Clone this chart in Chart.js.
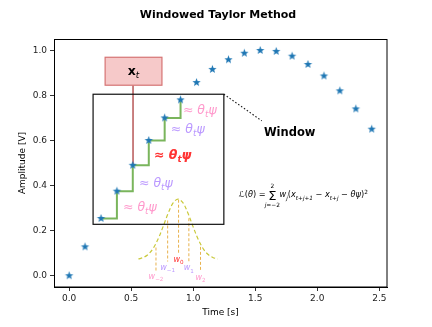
<!DOCTYPE html>
<html>
<head>
<meta charset="utf-8">
<script src="https://cdn.jsdelivr.net/npm/chart.js@4.4.1/dist/chart.umd.min.js"></script>
<style>
  html, body { margin: 0; padding: 0; background: #fff; }
  #wrap { width: 432px; height: 327px; }
</style>
</head>
<body>
<div id="wrap"><canvas id="taylorChart" width="432" height="327"></canvas></div>
<script>
// sampled signal
const timeS = [0.0, 0.128, 0.257, 0.385, 0.513, 0.642, 0.770, 0.898, 1.027, 1.155,
               1.284, 1.412, 1.540, 1.669, 1.797, 1.925, 2.054, 2.182, 2.311, 2.439];
const amplitude = [0.0, 0.128, 0.254, 0.375, 0.490, 0.600, 0.700, 0.780, 0.857, 0.915,
                   0.958, 0.987, 0.999, 0.995, 0.974, 0.937, 0.886, 0.820, 0.740, 0.650];

// samples inside the window (green staircase)
const windowTime = timeS.slice(2, 8);
const windowAmp = amplitude.slice(2, 8);

// weighting bell curve
const bellT = [0.558, 0.598, 0.638, 0.678, 0.718, 0.758, 0.798, 0.838, 0.878,
               0.918, 0.958, 0.998, 1.038, 1.078, 1.118, 1.158, 1.198];
const bellY = [0.074, 0.081, 0.095, 0.122, 0.164, 0.219, 0.277, 0.323, 0.340,
               0.323, 0.277, 0.219, 0.164, 0.122, 0.095, 0.081, 0.074];

// weight stems w_-2 .. w_2
const weightNames = ['−2', '−1', '0', '1', '2'];
const weightT = [0.700, 0.794, 0.882, 0.965, 1.059];
const weightTop = [0.125, 0.245, 0.337, 0.255, 0.128];
const weightBottom = [0.020, 0.063, 0.100, 0.063, 0.020];

// pointer from the x_t box to the current sample
const pointerT = [0.515, 0.515];
const pointerY = [0.845, 0.490];

const xTicks = [0.0, 0.5, 1.0, 1.5, 2.0, 2.5];
const yTicks = [0.0, 0.2, 0.4, 0.6, 0.8, 1.0];

const FONT = "'DejaVu Sans', sans-serif";
const PINK = '#ff99cc', LAV = '#bb99ff', RED = '#ff3333';

function starImage(color, r) {
    const c = document.createElement('canvas');
    const s = Math.ceil(r * 2 + 2);
    c.width = s; c.height = s;
    const g = c.getContext('2d');
    g.translate(s / 2, s / 2);
    g.beginPath();
    for (let i = 0; i < 10; i++) {
        const rr = i % 2 === 0 ? r : r * 0.42;
        const a = -Math.PI / 2 + i * Math.PI / 5;
        g.lineTo(rr * Math.cos(a), rr * Math.sin(a));
    }
    g.closePath();
    g.fillStyle = color;
    g.fill();
    return c;
}

// draws a run of text pieces (with sub/superscripts) starting at x, baseline y
function drawRich(ctx, parts, x, y, size, color, align) {
    let w = 0;
    const m = parts.map(p => {
        const fs = size * (p.scale || 1);
        const f = `${p.it ? 'italic ' : ''}${p.bold ? 'bold ' : ''}${fs}px ${FONT}`;
        ctx.font = f;
        const pw = ctx.measureText(p.t).width;
        w += pw;
        return { f, pw, dy: (p.dy || 0) * size, t: p.t };
    });
    let cx = align === 'center' ? x - w / 2 : x;
    ctx.textAlign = 'left';
    ctx.textBaseline = 'alphabetic';
    ctx.fillStyle = color;
    m.forEach(p => { ctx.font = p.f; ctx.fillText(p.t, cx, y + p.dy); cx += p.pw; });
    return cx;
}

function approx(bold) {
    return [{ t: '≈ ', bold }, { t: 'θ', it: true, bold }, { t: 't', it: true, bold, scale: 0.7, dy: 0.25 }, { t: 'ψ', it: true, bold }];
}

const overlay = {
    id: 'overlay',
    afterDatasetsDraw(chart) {
        const { ctx, chartArea: ca, scales: { x, y } } = chart;
        const px = v => x.getPixelForValue(v);
        const py = v => y.getPixelForValue(v);
        ctx.save();

        // window rectangle
        ctx.strokeStyle = '#111';
        ctx.lineWidth = 1.2;
        ctx.strokeRect(px(0.193), py(0.805), px(1.247) - px(0.193), py(0.228) - py(0.805));

        // dotted leader + label
        ctx.setLineDash([1.5, 2]);
        ctx.lineWidth = 1.1;
        ctx.beginPath();
        ctx.moveTo(px(1.247), py(0.805));
        ctx.lineTo(px(1.553), py(0.687));
        ctx.stroke();
        ctx.setLineDash([]);
        ctx.font = `bold 11.5px ${FONT}`;
        ctx.fillStyle = '#000';
        ctx.textAlign = 'left';
        ctx.textBaseline = 'middle';
        ctx.fillText('Window', px(1.57), py(0.634));

        // x_t box
        const bx0 = px(0.29), bx1 = px(0.748), by0 = py(0.969), by1 = py(0.845);
        ctx.fillStyle = '#f6c9c9';
        ctx.fillRect(bx0, by0, bx1 - bx0, by1 - by0);
        ctx.strokeStyle = '#d67474';
        ctx.lineWidth = 1.2;
        ctx.strokeRect(bx0, by0, bx1 - bx0, by1 - by0);
        drawRich(ctx, [{ t: 'x', bold: true }, { t: 't', it: true, scale: 0.7, dy: 0.25 }],
            (bx0 + bx1) / 2, (by0 + by1) / 2 + 4, 12.5, '#000', 'center');

        // ≈ θ_t ψ notes along the staircase
        const notes = [
            [0.917, 0.736, PINK, false], [0.820, 0.652, LAV, false], [0.684, 0.537, RED, true],
            [0.563, 0.412, LAV, false], [0.434, 0.306, PINK, false]
        ];
        notes.forEach(([nx, ny, col, b]) => drawRich(ctx, approx(b), px(nx), py(ny) + 4.5, 12.5, col, 'left'));

        // weight labels
        const wCol = [PINK, LAV, RED, LAV, PINK];
        const wY = [-0.003, 0.038, 0.074, 0.035, -0.008];
        weightT.forEach((t, i) => {
            drawRich(ctx, [{ t: 'w', it: true }, { t: weightNames[i], scale: 0.7, dy: 0.3 }],
                px(t), py(wY[i]) + 2.5, 8, wCol[i], 'center');
        });

        // loss formula
        const fs = 8.2;
        const base = py(0.348);
        let cx = drawRich(ctx, [{ t: 'ℒ', it: true }, { t: '(' }, { t: 'θ', it: true }, { t: ') = ' }],
            px(1.368), base, fs, '#000', 'left');
        ctx.font = `${fs * 1.6}px ${FONT}`;
        const sw = ctx.measureText('Σ').width;
        ctx.fillText('Σ', cx, base + 2.5);
        drawRich(ctx, [{ t: '2' }], cx + sw / 2, base - 9, fs * 0.72, '#000', 'center');
        drawRich(ctx, [{ t: 'j', it: true }, { t: '=−2' }], cx + sw / 2, base + 9.5, fs * 0.72, '#000', 'center');
        cx += sw + 3;
        drawRich(ctx, [
            { t: 'w', it: true }, { t: 'j', it: true, scale: 0.7, dy: 0.3 }, { t: '(' },
            { t: 'x', it: true }, { t: 't+j+1', it: true, scale: 0.7, dy: 0.3 }, { t: ' − ' },
            { t: 'x', it: true }, { t: 't+j', it: true, scale: 0.7, dy: 0.3 }, { t: ' − ' },
            { t: 'θψ', it: true }, { t: ')' }, { t: '2', scale: 0.7, dy: -0.45 }
        ], cx, base, fs, '#000', 'left');

        // top / right spines
        ctx.strokeStyle = '#000';
        ctx.lineWidth = 1;
        ctx.strokeRect(ca.left + 0.5, ca.top + 0.5, ca.right - ca.left - 0.5, ca.bottom - ca.top - 0.5);

        // title
        ctx.font = `bold 11px ${FONT}`;
        ctx.fillStyle = '#000';
        ctx.textAlign = 'center';
        ctx.textBaseline = 'middle';
        ctx.fillText('Windowed Taylor Method', 218, 15);
        ctx.restore();
    }
};

const pts = (xs, ys) => xs.map((v, i) => ({ x: v, y: ys[i] }));

const datasets = [
    {
        type: 'scatter', label: 'samples', data: pts(timeS, amplitude),
        pointStyle: starImage('#1f77b4', 4.4), pointRadius: 4, order: 0
    },
    {
        type: 'line', label: 'window', data: pts(windowTime, windowAmp), stepped: true,
        borderColor: '#7ab55c', borderWidth: 2, pointRadius: 0, order: 2
    },
    {
        type: 'line', label: 'pointer', data: pts(pointerT, pointerY),
        borderColor: '#b85858', borderWidth: 1.5, pointRadius: 0, order: 3
    },
    {
        type: 'line', label: 'bell', data: pts(bellT, bellY), tension: 0.35,
        borderColor: '#c9c93a', borderWidth: 1.2, borderDash: [4, 2.5], pointRadius: 0, order: 4
    }
];
weightT.forEach((t, i) => datasets.push({
    type: 'line', label: 'w' + weightNames[i],
    data: [{ x: t, y: weightTop[i] }, { x: t, y: weightBottom[i] }],
    borderColor: '#e8b24e', borderWidth: 1, borderDash: [3, 2], pointRadius: 0, order: 5
}));

new Chart(document.getElementById('taylorChart'), {
    type: 'scatter',
    data: { datasets },
    options: {
        responsive: false,
        animation: false,
        devicePixelRatio: 1,
        layout: { padding: { top: 39, right: 45, left: 0, bottom: 0 } },
        plugins: { legend: { display: false }, tooltip: { enabled: false } },
        scales: {
            x: {
                type: 'linear', min: -0.122, max: 2.562,
                afterFit: s => { s.height = 40; },
                afterBuildTicks: s => { s.ticks = xTicks.map(v => ({ value: v })); },
                ticks: { callback: v => v.toFixed(1), color: '#222', padding: 2, maxRotation: 0,
                         font: { family: 'DejaVu Sans', size: 9 } },
                grid: { drawOnChartArea: false, drawTicks: true, tickLength: 4, tickColor: '#333' },
                border: { display: true, color: '#000', width: 1 },
                title: { display: true, text: 'Time [s]', color: '#000',
                         font: { family: 'DejaVu Sans', size: 9 }, padding: { top: 0, bottom: 9 } }
            },
            y: {
                type: 'linear', min: -0.05, max: 1.05,
                afterFit: s => { s.width = 54; },
                afterBuildTicks: s => { s.ticks = yTicks.map(v => ({ value: v })); },
                ticks: { callback: v => v.toFixed(1), color: '#222', padding: 3,
                         font: { family: 'DejaVu Sans', size: 9 } },
                grid: { drawOnChartArea: false, drawTicks: true, tickLength: 4, tickColor: '#333' },
                border: { display: true, color: '#000', width: 1 },
                title: { display: true, text: 'Amplitude [V]', color: '#000',
                         font: { family: 'DejaVu Sans', size: 9 }, padding: { top: 17, bottom: 0 } }
            }
        }
    },
    plugins: [overlay]
});
</script>
</body>
</html>
